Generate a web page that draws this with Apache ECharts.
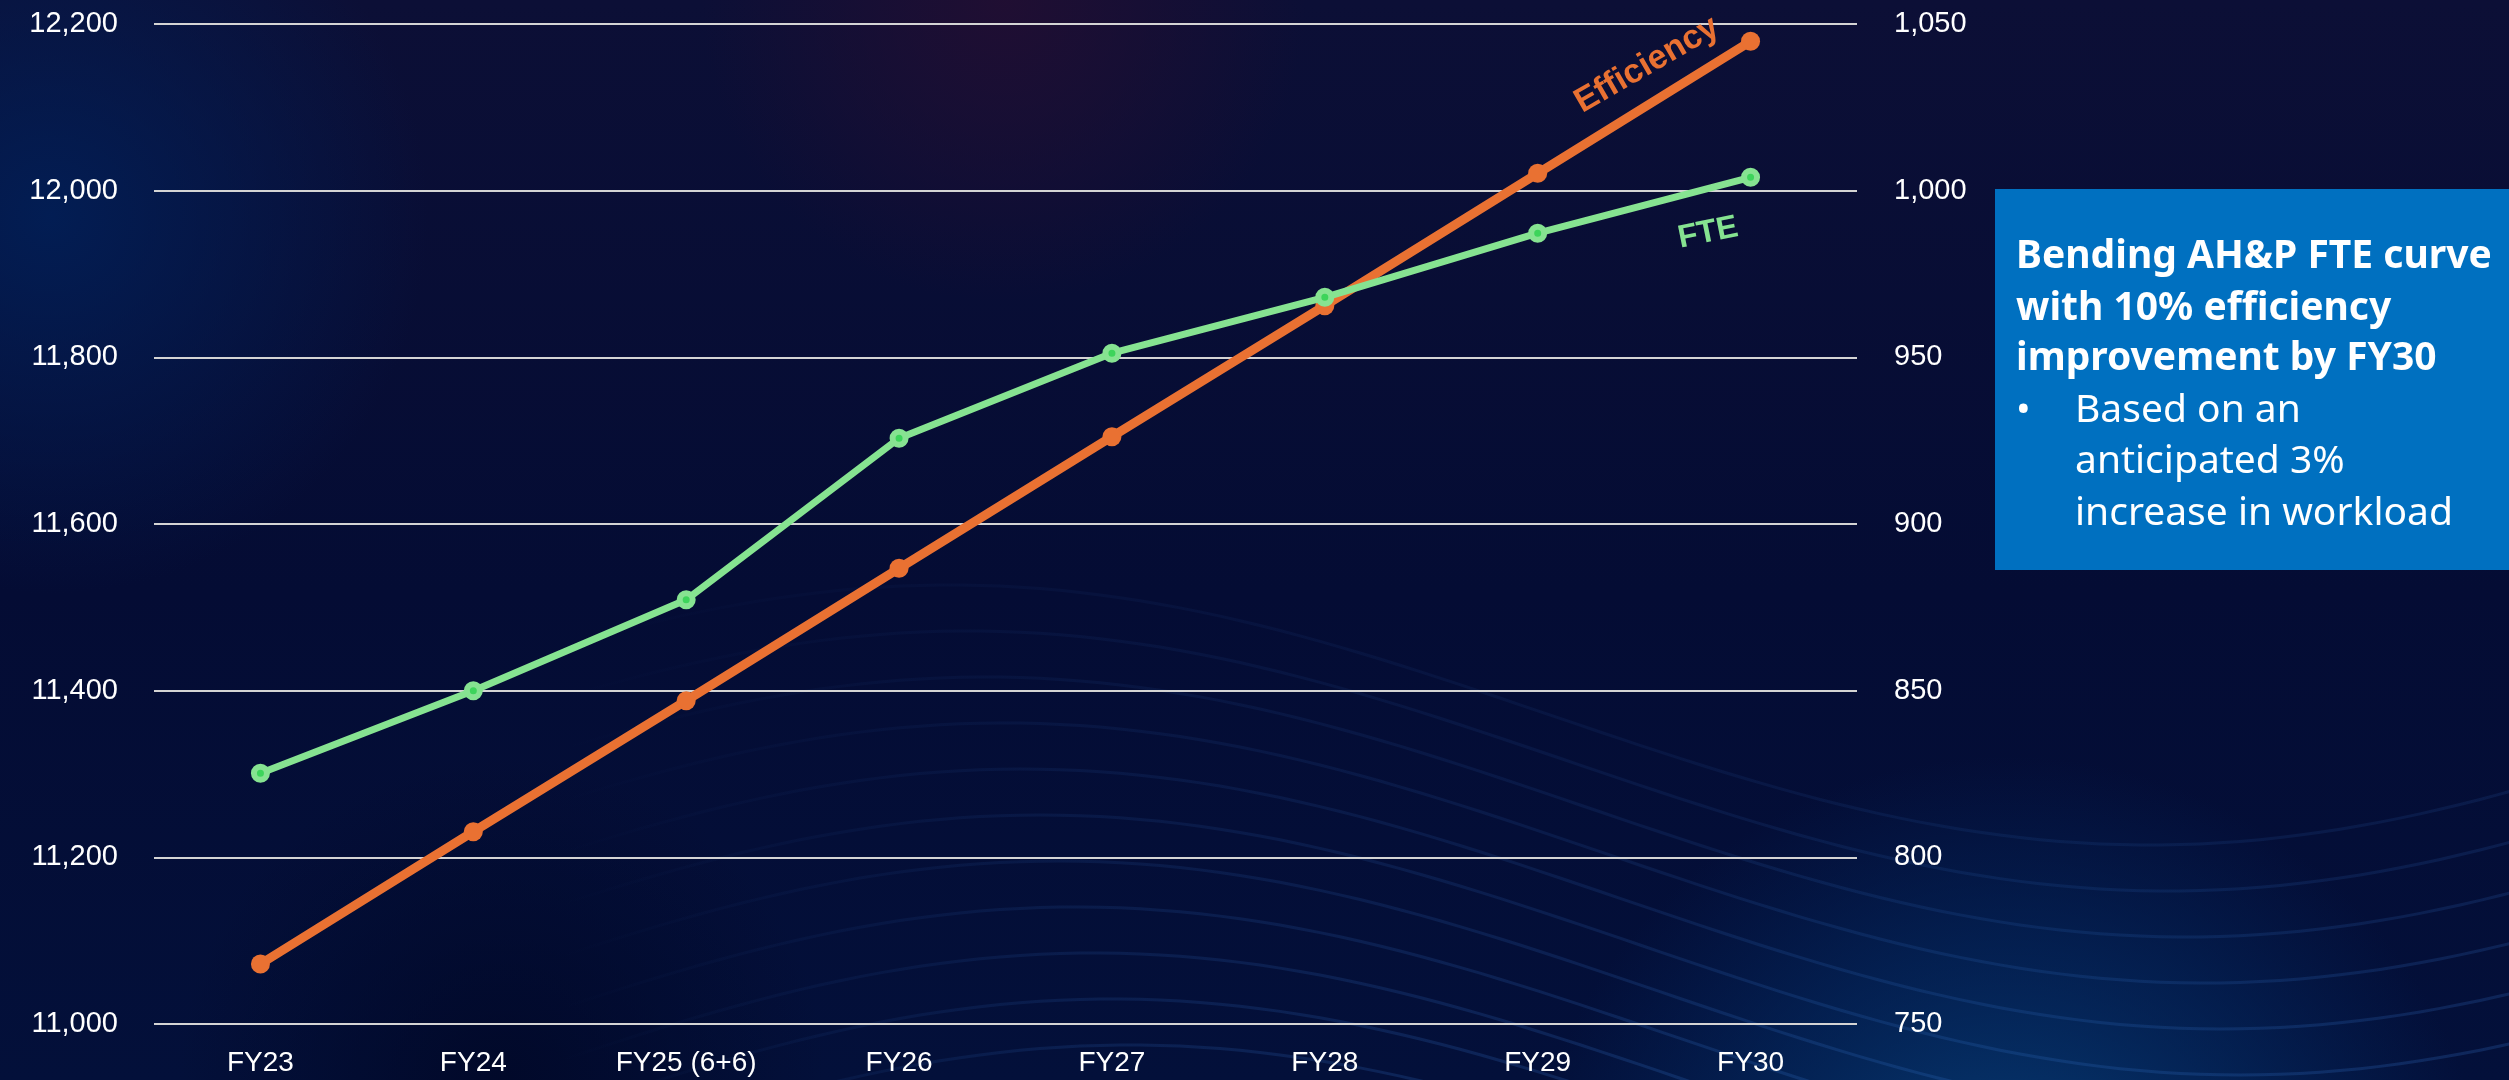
<!DOCTYPE html>
<html>
<head>
<meta charset="utf-8">
<style>
  html, body { margin: 0; padding: 0; width: 2509px; height: 1080px; overflow: hidden; background: #07113a; }
  #chart { width: 2509px; height: 1080px; }
</style>
<script src="https://cdn.jsdelivr.net/npm/echarts@6/dist/echarts.min.js"></script>
</head>
<body>
<div id="chart"></div>
<script>
// ---- data ----
const categories = ['FY23', 'FY24', 'FY25 (6+6)', 'FY26', 'FY27', 'FY28', 'FY29', 'FY30'];
const fteValues = [11301, 11400, 11509, 11703, 11805, 11872, 11949, 12016];
const efficiencyValues = [768, 807.7, 847, 886.7, 926.2, 965.5, 1005.2, 1044.8];
const leftAxisRange = [11000, 12200, 200];
const rightAxisRange = [750, 1050, 50];
const seriesNames = ['FTE', 'Efficiency'];
const calloutTitle = ['Bending AH&P FTE curve', 'with 10% efficiency', 'improvement by FY30'];
const calloutBullet = ['Based on an', 'anticipated 3%', 'increase in workload'];

const W = 2509, H = 1080;
const chart = echarts.init(document.getElementById('chart'), null, { renderer: 'canvas', width: W, height: H });

const ORANGE = '#E97132';
const GREEN = '#86E391';
const GREEN_DOT = '#3DD45B';
const axisFont = 'Liberation Sans, Arial, sans-serif';
const boxFont = 'Noto Sans, Open Sans, sans-serif';

// ---- background decoration (not data) ----
const bg = [];
bg.push({ type: 'rect', z: -100, silent: true, shape: { x: 0, y: 0, width: W, height: H },
  style: { fill: new echarts.graphic.LinearGradient(0, 0, 0, 1, [
    { offset: 0, color: '#0c0f36' }, { offset: 0.55, color: '#040c34' }, { offset: 1, color: '#03103a' }]) } });
bg.push({ type: 'rect', z: -99, silent: true, shape: { x: 0, y: 0, width: W, height: H },
  style: { fill: new echarts.graphic.RadialGradient(0.02, 0.2, 0.35, [
    { offset: 0, color: 'rgba(2,30,85,0.95)' }, { offset: 1, color: 'rgba(2,30,85,0)' }]) } });
bg.push({ type: 'rect', z: -98, silent: true, shape: { x: 0, y: 0, width: W, height: H },
  style: { fill: new echarts.graphic.RadialGradient(0.4, 0.0, 0.28, [
    { offset: 0, color: 'rgba(34,14,50,0.9)' }, { offset: 1, color: 'rgba(34,14,50,0)' }]) } });
bg.push({ type: 'rect', z: -97, silent: true, shape: { x: 0, y: 0, width: W, height: H },
  style: { fill: new echarts.graphic.RadialGradient(0.8, 1.15, 0.45, [
    { offset: 0, color: 'rgba(8,72,132,0.95)' }, { offset: 0.6, color: 'rgba(4,45,100,0.55)' }, { offset: 1, color: 'rgba(4,40,95,0)' }]) } });
bg.push({ type: 'rect', z: -96, silent: true, shape: { x: 0, y: 0, width: W, height: H },
  style: { fill: new echarts.graphic.RadialGradient(0.2, 1.0, 0.3, [
    { offset: 0, color: 'rgba(1,8,40,0.9)' }, { offset: 1, color: 'rgba(1,8,40,0)' }]) } });
for (let i = 0; i < 13; i++) {
  const y0 = 585 + i * 46;
  const xc = 950 + i * 18;
  const pts = [];
  for (let x = 560; x <= 2580; x += 20) {
    pts.push([x, y0 + 130 - 130 * Math.cos(2 * Math.PI * (x - xc) / 2400)]);
  }
  const a = 0.08 + i * 0.013;
  bg.push({ type: 'polyline', z: -90, silent: true, shape: { points: pts },
    style: { lineWidth: 3, fill: null, stroke: new echarts.graphic.LinearGradient(0, 0, 1, 0, [
      { offset: 0, color: 'rgba(55,120,210,0)' }, { offset: 0.25, color: 'rgba(55,120,210,' + (a * 0.7) + ')' },
      { offset: 0.6, color: 'rgba(55,120,210,' + (a * 1.2) + ')' }, { offset: 1, color: 'rgba(55,120,210,' + (a * 1.6) + ')' }]) } });
}

// ---- series labels + callout ----
const deco = [];
deco.push({ type: 'text', z: 50, x: 1647, y: 65, rotation: Math.PI / 6,
  style: { text: seriesNames[1], fill: ORANGE, font: 'bold 34px ' + axisFont, align: 'center', verticalAlign: 'middle' } });
deco.push({ type: 'text', z: 50, x: 1708, y: 233, rotation: 0.2,
  style: { text: seriesNames[0], fill: GREEN, font: 'bold 32px ' + axisFont, align: 'center', verticalAlign: 'middle' } });
deco.push({ type: 'rect', z: 40, shape: { x: 1995, y: 189, width: 520, height: 381 }, style: { fill: '#0070C0' } });
const titleBase = [237, 289, 339];
calloutTitle.forEach((t, i) => deco.push({ type: 'text', z: 50, x: 2016, y: titleBase[i],
  style: { text: t, fill: '#ffffff', font: 'bold 39px ' + boxFont, align: 'left', verticalAlign: 'alphabetic' } }));
const bulletBase = [391, 442, 494];
deco.push({ type: 'text', z: 50, x: 2016, y: bulletBase[0],
  style: { text: '•', fill: '#ffffff', font: '39px ' + boxFont, align: 'left', verticalAlign: 'alphabetic' } });
calloutBullet.forEach((t, i) => deco.push({ type: 'text', z: 50, x: 2075, y: bulletBase[i],
  style: { text: t, fill: '#ffffff', font: '39px ' + boxFont, align: 'left', verticalAlign: 'alphabetic' } }));

const fmt = v => Number(v).toLocaleString('en-US');

chart.setOption({
  backgroundColor: 'transparent',
  animation: false,
  graphic: { elements: bg.concat(deco) },
  grid: { left: 154, right: 652, top: 24, bottom: 56, containLabel: false },
  xAxis: {
    type: 'category', data: categories, boundaryGap: true,
    axisLine: { show: false }, axisTick: { show: false },
    axisLabel: { color: '#ffffff', fontFamily: axisFont, fontSize: 28, margin: 25, interval: 0 }
  },
  yAxis: [
    { type: 'value', min: leftAxisRange[0], max: leftAxisRange[1], interval: leftAxisRange[2], position: 'left',
      axisLine: { show: false }, axisTick: { show: false },
      axisLabel: { color: '#ffffff', fontFamily: axisFont, fontSize: 29, margin: 36, formatter: fmt },
      splitLine: { show: true, lineStyle: { color: '#d4d4d4', width: 2 } } },
    { type: 'value', min: rightAxisRange[0], max: rightAxisRange[1], interval: rightAxisRange[2], position: 'right',
      axisLine: { show: false }, axisTick: { show: false },
      axisLabel: { color: '#ffffff', fontFamily: axisFont, fontSize: 29, margin: 37, formatter: fmt },
      splitLine: { show: false } }
  ],
  series: [
    { name: seriesNames[0], type: 'line', yAxisIndex: 0, data: fteValues, z: 3,
      symbol: 'circle', symbolSize: 13, showAllSymbol: true,
      lineStyle: { color: GREEN, width: 7 },
      itemStyle: { color: GREEN_DOT, borderColor: GREEN, borderWidth: 6 } },
    { name: seriesNames[1], type: 'line', yAxisIndex: 1, data: efficiencyValues, z: 2,
      symbol: 'circle', symbolSize: 19, showAllSymbol: true,
      lineStyle: { color: ORANGE, width: 9 },
      itemStyle: { color: ORANGE, borderWidth: 0 } }
  ]
});
</script>
</body>
</html>
